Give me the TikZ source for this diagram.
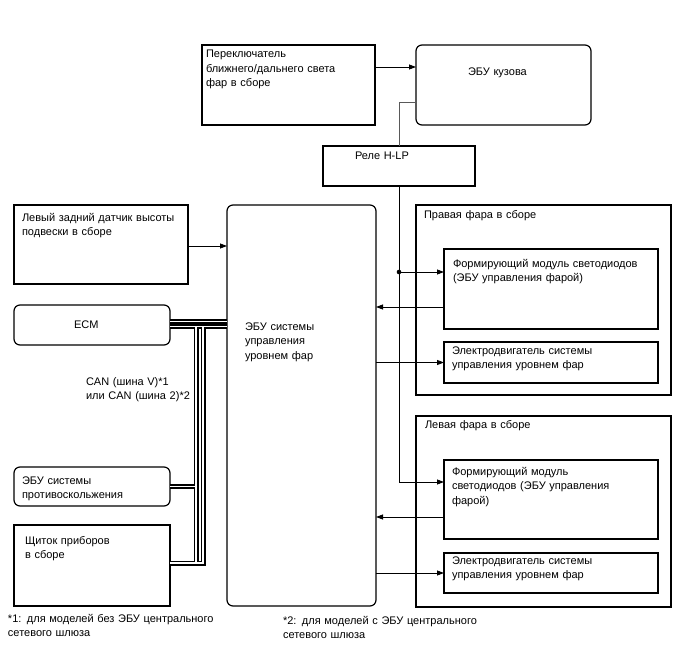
\documentclass[tikz,border=0pt]{standalone}
\usepackage{fontspec}
\setmainfont{Liberation Sans}
\usetikzlibrary{arrows.meta}
\tikzset{
  box/.style={draw=black, line width=1.2pt, inner sep=0pt, outer sep=0pt, anchor=north west},
  rbox/.style={box, rounded corners=6pt},
  txt/.style={anchor=base west, inner sep=0pt, outer sep=0pt, align=left, text width=#1,
              font=\fontsize{11}{14.5}\selectfont},
  txt/.default=240pt,
  conn/.style={draw=black, line width=0.8pt},
  arr/.style={conn, -{Triangle[length=7pt,width=5pt]}},
  grayconn/.style={draw=black!65, line width=0.8pt},
}
\begin{document}
\begin{tikzpicture}[x=1pt,y=-1pt]
\useasboundingbox (0,0) rectangle (688,658);
\fill[white] (0,0) rectangle (688,658);

% boxes
\node[box, minimum width=173, minimum height=80] (sw) at (202,45) {};
\node[rbox, minimum width=175, minimum height=80] (body) at (416,45) {};
\node[box, minimum width=152, minimum height=40] (relay) at (323,146) {};
\node[rbox, minimum width=149, minimum height=401] (ecu) at (227,205) {};
\node[box, minimum width=174, minimum height=79] (sensor) at (14,205) {};
\node[rbox, minimum width=156, minimum height=40] (ecm) at (14,305) {};
\node[rbox, minimum width=156, minimum height=39] (abs) at (14,467) {};
\node[box, minimum width=156, minimum height=81] (meter) at (14,525) {};
\node[box, minimum width=255, minimum height=190] (rhl) at (416,205) {};
\node[box, minimum width=214, minimum height=80] (rled) at (444,249) {};
\node[box, minimum width=214, minimum height=41] (rmot) at (444,342) {};
\node[box, minimum width=255, minimum height=191] (lhl) at (416,416) {};
\node[box, minimum width=214, minimum height=79] (lled) at (444,460) {};
\node[box, minimum width=214, minimum height=40] (lmot) at (444,553) {};

% texts
\node[txt=160pt] (tsw) at (206,58) {Переключатель\\ближнего/дальнего света\\фар в сборе};
\node[txt=100pt] (tbody) at (468,76) {ЭБУ кузова};
\node[txt=100pt] (trelay) at (355,160) {Реле H-LP};
\node[txt=170pt] (tsensor) at (22,221) {Левый задний датчик высоты\\подвески в сборе};
\node[txt=60pt] (tecm) at (74,328) {ECM};
\node[txt=130pt] (tcan) at (86,385) {CAN (шина V)*1\\или CAN (шина 2)*2};
\node[txt=150pt] (tabs) at (22,484) {ЭБУ системы\\противоскольжения};
\node[txt=140pt] (tmeter) at (25,544) {Щиток приборов\\в сборе};
\node[txt=240pt] (fn1) at (8,622) {*1: для моделей без ЭБУ центрального\\сетевого шлюза};
\node[txt=240pt] (fn2) at (283,624) {*2: для моделей с ЭБУ центрального\\сетевого шлюза};
\node[txt=120pt] (tecu) at (245,330) {ЭБУ системы\\управления\\уровнем фар};
\node[txt=230pt] (trhl) at (424,218) {Правая фара в сборе};
\node[txt=205pt] (trled) at (453,267) {Формирующий модуль светодиодов\\(ЭБУ управления фарой)};
\node[txt=205pt] (trmot) at (452,354) {Электродвигатель системы\\управления уровнем фар};
\node[txt=230pt] (tlhl) at (425,428) {Левая фара в сборе};
\node[txt=200pt] (tlled) at (452,475) {Формирующий модуль\\светодиодов (ЭБУ управления\\фарой)};
\node[txt=205pt] (tlmot) at (452,564) {Электродвигатель системы\\управления уровнем фар};

% connectors
\path ([yshift=-22pt]sw.north east) coordinate (swo);
\draw[arr] (swo) -- (swo -| body.west);
\path ([yshift=-57pt]body.north west) coordinate (bodyo);
\draw[grayconn] (bodyo) -| (relay.north);
\path ([yshift=-22pt]lled.north west) coordinate (lledin);
\draw[arr] (relay.south) |- (lledin);
\path ([yshift=-23pt]rled.north west) coordinate (rledin);
\coordinate (dot) at (relay.south |- rledin);
\draw[arr] (dot) -- (rledin);
\fill (dot) circle (2.3pt);
\path ([yshift=-41pt]sensor.north east) coordinate (seno);
\draw[arr] (seno) -- (seno -| ecu.west);
\path ([yshift=-58pt]rled.north west) coordinate (rledo);
\draw[arr] (rledo) -- (rledo -| ecu.east);
\draw[arr] (ecu.east |- rmot.west) -- (rmot.west);
\path ([yshift=-57pt]lled.north west) coordinate (lledo);
\draw[arr] (lledo) -- (lledo -| ecu.east);
\draw[arr] (ecu.east |- lmot.west) -- (lmot.west);

% CAN bus
\path ([yshift=3.5pt]ecm.east) coordinate (canA1);
\path ([yshift=-1.5pt]ecm.east) coordinate (canB1);
\coordinate (canA2) at (canA1 -| ecu.west);
\coordinate (canB2) at (canB1 -| ecu.west);
\coordinate (brL) at (196,326.5);
\coordinate (brR) at (203,326.5);
\path ([yshift=-38pt]meter.north east) coordinate (mtr);
\foreach \lw/\col in {5pt/black, 1.6pt/white} {
  \draw[line width=\lw, draw=\col] (canA1) -- (canA2);
  \draw[line width=\lw, draw=\col] (canB1) -- (canB2);
  \draw[line width=\lw, draw=\col] (brL) -- (brL |- mtr);
  \draw[line width=\lw, draw=\col] (abs.east) -- (abs.east -| brL);
  \draw[line width=\lw, draw=\col] (mtr) -| (brR);
}
\end{tikzpicture}
\end{document}
